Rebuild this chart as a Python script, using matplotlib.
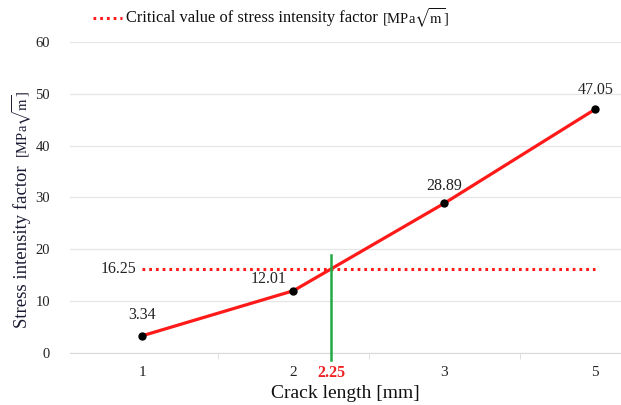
import matplotlib
matplotlib.use('Agg')
import matplotlib.pyplot as plt
from matplotlib.lines import Line2D

# data
crack_labels = ['1', '2', '3', '5']
sif_values = [3.34, 12.01, 28.89, 47.05]
critical_sif = 16.25
critical_crack = 2.25
critical_pos = 1.25   # position of 2.25 between categories "2" and "3"

plt.rcParams['font.family'] = ['Liberation Serif', 'DejaVu Serif']
plt.rcParams['mathtext.fontset'] = 'stix'

W, H = 621, 405
fig = plt.figure(figsize=(W / 100, H / 100), dpi=100)
ax = fig.add_axes([70/W, 52/H, 551/W, 311/H])

red = '#ff1a1a'
dots = (0, (0.9, 1.3))
unit = r'[MPa$\sqrt{\mathrm{m}}$]'

x = list(range(len(crack_labels)))
ax.plot(x, sif_values, color=red, lw=2.3, zorder=3)
ax.plot(x, sif_values, 'o', color='black', ms=5, zorder=4)

# critical value line
ax.plot([x[0], x[-1]], [critical_sif, critical_sif], color=red, lw=2.2, ls=dots, zorder=2)
ax.text(x[0] - 0.04, critical_sif, '%.2f' % critical_sif, ha='right', va='center',
        fontsize=11.5, color='#222222')

# vertical green marker at crack length 2.25
ax.plot([critical_pos, critical_pos], [-1.4, 18.9], color='#22a845', lw=1.8,
        zorder=3, clip_on=False)

# data labels
offsets = [((0, 9), 'center'), ((-5, 3), 'right'), ((0, 7), 'center'), ((0, 8), 'center')]
for xi, v, (off, ha) in zip(x, sif_values, offsets):
    ax.annotate('%.2f' % v, (xi, v), xytext=off, textcoords='offset points',
                ha=ha, va='bottom', fontsize=11.5, color='#222222')

ax.set_xlim(-0.48, 3.17)
ax.set_ylim(0, 60)
ax.set_yticks(range(0, 61, 10))
ax.set_xticks(x)
ax.set_xticklabels(crack_labels)
ax.set_xticks([0.5, 1.5, 2.5], minor=True)
ax.tick_params(axis='x', which='major', length=0, pad=9, labelsize=11, labelcolor='#222222')
ax.tick_params(axis='x', which='minor', length=4, color='#d9d9d9')
ax.tick_params(axis='y', length=0, pad=14.5, labelsize=10.5, labelcolor='#222222')

ax.text(critical_pos, -0.063, '%.2f' % critical_crack, transform=ax.get_xaxis_transform(),
        ha='center', va='center', color='#ee2222', fontweight='bold', fontsize=11.5)

ax.grid(axis='y', color='#e6e6e6', lw=0.9)
ax.set_axisbelow(True)
for s in ['top', 'right', 'left']:
    ax.spines[s].set_visible(False)
ax.spines['bottom'].set_color('#d9d9d9')

ax.set_xlabel('Crack length [mm]', fontsize=14, labelpad=5, color='#111111')

# y label: main part plus smaller unit part
yl = fig.text(22/W, 1 - 328/H, 'Stress intensity factor', rotation=90, ha='center',
              va='bottom', fontsize=13.5, color='#1a1a33')
fig.canvas.draw()
bb = yl.get_window_extent()
fig.text(22/W, (bb.y1 + 7) / H, unit, rotation=90, ha='center', va='bottom',
         fontsize=10.5, color='#1a1a33')

# legend drawn by hand
ly = 1 - 18/H
fig.add_artist(Line2D([93/W, 122/W], [ly, ly], color=red, lw=2.2, ls=dots))
lt = fig.text(126/W, ly, 'Critical value of stress intensity factor', ha='left',
              va='center', fontsize=11.9, color='#111111')
fig.canvas.draw()
bb = lt.get_window_extent()
fig.text((bb.x1 + 4) / W, ly, unit, ha='left', va='center', fontsize=10.5, color='#111111')

fig.savefig('out.png', dpi=100)
